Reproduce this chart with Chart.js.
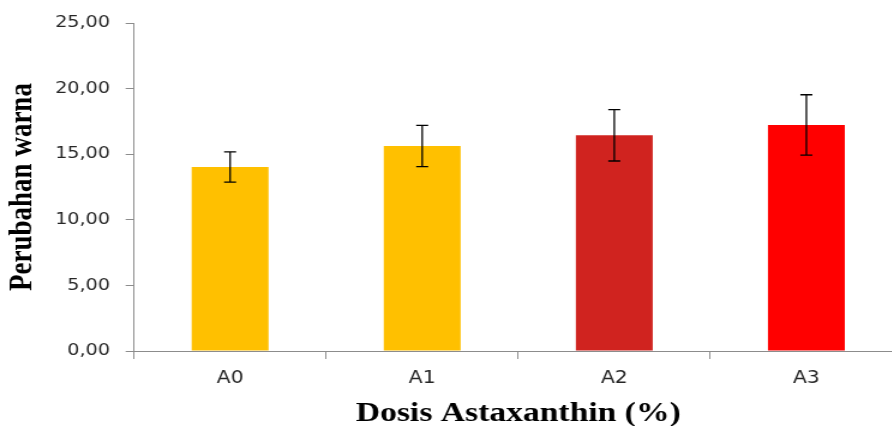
<!DOCTYPE html>
<html lang="id">
<head>
    <meta charset="UTF-8">
    <title>Perubahan warna</title>
    <script src="https://cdn.jsdelivr.net/npm/chart.js"></script>
    <style>
        html, body { margin: 0; padding: 0; background: #fff; overflow: hidden; }
        /* the reference picture is stretched sideways, so the chart is too */
        .wrap {
            width: 760px;
            height: 426px;
            transform: scaleX(1.2);
            transform-origin: 0 0;
        }
    </style>
</head>
<body>
<div class="wrap"><canvas id="warnaChart"></canvas></div>
<script>
    const categories = ['A0', 'A1', 'A2', 'A3'];
    const perubahanWarna = [14.02, 15.62, 16.44, 17.23];
    const sdWarna = [1.15, 1.57, 1.96, 2.30];
    const barColors = ['#FFC000', '#FFC000', '#D0231F', '#FF0000'];
    const yTicks = [0, 5, 10, 15, 20, 25];

    const axisGrey = '#8c8c8c';

    const errorBars = {
        id: 'errorBars',
        afterDatasetsDraw(chart) {
            const ctx = chart.ctx;
            const meta = chart.getDatasetMeta(0);
            const y = chart.scales.y;
            ctx.save();
            ctx.strokeStyle = '#000';
            ctx.lineWidth = 1.3;
            meta.data.forEach((bar, i) => {
                const x = bar.x;
                const top = y.getPixelForValue(perubahanWarna[i] + sdWarna[i]);
                const bottom = y.getPixelForValue(perubahanWarna[i] - sdWarna[i]);
                ctx.beginPath();
                ctx.moveTo(x, top);
                ctx.lineTo(x, bottom);
                ctx.moveTo(x - 5, top);
                ctx.lineTo(x + 5, top);
                ctx.moveTo(x - 5, bottom);
                ctx.lineTo(x + 5, bottom);
                ctx.stroke();
            });
            ctx.restore();
        }
    };

    const ctx = document.getElementById('warnaChart').getContext('2d');
    new Chart(ctx, {
        type: 'bar',
        data: {
            labels: categories,
            datasets: [{
                data: perubahanWarna,
                backgroundColor: barColors,
                borderWidth: 0,
                categoryPercentage: 1.0,
                barPercentage: 0.4
            }]
        },
        options: {
            responsive: true,
            maintainAspectRatio: false,
            animation: false,
            layout: { padding: { top: 23, right: 8, bottom: 0, left: 0 } },
            plugins: {
                legend: { display: false },
                tooltip: { enabled: false }
            },
            scales: {
                x: {
                    grid: {
                        display: true,
                        drawOnChartArea: false,
                        drawTicks: true,
                        tickLength: 8,
                        color: axisGrey,
                        offset: true
                    },
                    border: { color: axisGrey, width: 1 },
                    ticks: {
                        color: '#262626',
                        font: { family: 'DejaVu Sans', size: 17 },
                        padding: 9
                    },
                    title: {
                        display: true,
                        text: 'Dosis Astaxanthin (%)',
                        color: '#000',
                        font: { family: 'Liberation Serif', size: 28, weight: 'bold', lineHeight: 0.9 },
                        padding: { top: 0, bottom: 0 }
                    },
                    afterFit(scale) { scale.height = 75; }
                },
                y: {
                    min: 0,
                    max: 25,
                    afterBuildTicks(scale) {
                        scale.ticks = yTicks.map(v => ({ value: v }));
                    },
                    grid: {
                        display: true,
                        drawOnChartArea: false,
                        drawTicks: true,
                        tickLength: 7,
                        color: axisGrey
                    },
                    border: { color: axisGrey, width: 1 },
                    ticks: {
                        color: '#262626',
                        font: { family: 'DejaVu Sans', size: 16 },
                        padding: 13,
                        callback: v => v.toFixed(2).replace('.', ',')
                    },
                    title: {
                        display: true,
                        text: 'Perubahan warna',
                        color: '#000',
                        font: { family: 'Liberation Serif', size: 27, weight: 'bold', lineHeight: 0.9 },
                        padding: { top: 6.5, bottom: 0 }
                    },
                    afterFit(scale) { scale.width = 111.7; }
                }
            }
        },
        plugins: [errorBars]
    });
</script>
</body>
</html>
